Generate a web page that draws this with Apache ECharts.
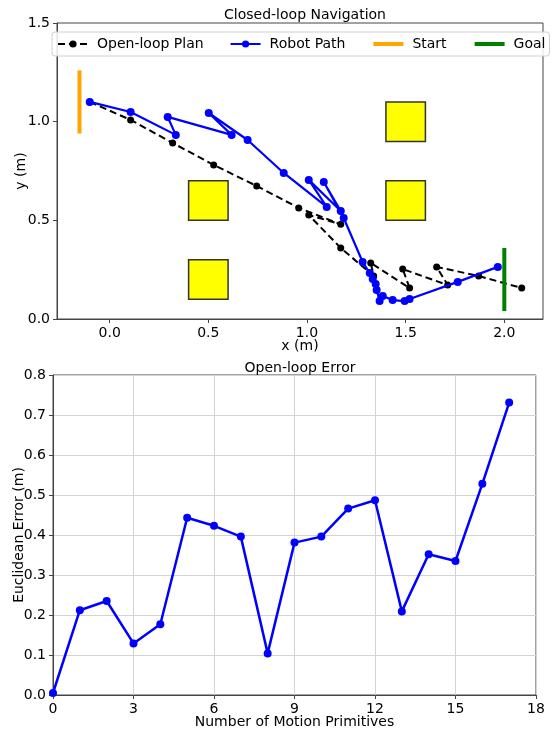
<!DOCTYPE html>
<html>
<head>
<meta charset="utf-8">
<script src="https://cdn.jsdelivr.net/npm/echarts@6/dist/echarts.min.js"></script>
<style>
html,body{margin:0;padding:0;background:#fff;}
#chart{width:553px;height:730px;}
</style>
</head>
<body>
<div id="chart"></div>
<script>
// ---- Data: Closed-loop Navigation ----
const planX = [-0.101, 0.106, 0.319, 0.527, 0.745, 0.958, 1.171, 1.009, 1.171, 1.338, 1.323, 1.520, 1.485, 1.713, 1.657, 1.870, 2.088];
const planY = [1.100, 1.009, 0.892, 0.781, 0.674, 0.563, 0.480, 0.527, 0.360, 0.218, 0.284, 0.157, 0.253, 0.172, 0.264, 0.218, 0.157];

const robotX = [-0.101, 0.106, 0.335, 0.294, 0.618, 0.502, 0.699, 0.882, 1.100, 1.009, 1.171, 1.085, 1.186, 1.282, 1.318, 1.333, 1.348, 1.353, 1.368, 1.384, 1.434, 1.495, 1.520, 1.764, 1.967];
const robotY = [1.100, 1.049, 0.933, 1.024, 0.933, 1.044, 0.907, 0.740, 0.568, 0.705, 0.547, 0.694, 0.512, 0.289, 0.233, 0.203, 0.177, 0.147, 0.091, 0.117, 0.096, 0.091, 0.101, 0.188, 0.264];

const startX = [-0.153, -0.153];
const startY = [0.94, 1.26];
const goalX = [2.0, 2.0];
const goalY = [0.04, 0.36];

// obstacles: [xmin, ymin, xmax, ymax]
const obstacles = [
  [0.4, 0.5, 0.6, 0.7],
  [0.4, 0.1, 0.6, 0.3],
  [1.4, 0.5, 1.6, 0.7],
  [1.4, 0.9, 1.6, 1.1]
];

const navXTicks = [0, 0.5, 1.0, 1.5, 2.0];

// ---- Data: Open-loop Error ----
const primitives = [0, 1, 2, 3, 4, 5, 6, 7, 8, 9, 10, 11, 12, 13, 14, 15, 16, 17];
const errors = [0.005, 0.212, 0.235, 0.129, 0.177, 0.443, 0.423, 0.396, 0.104, 0.381, 0.396, 0.466, 0.487, 0.209, 0.352, 0.335, 0.528, 0.731];

const zip = (a, b) => a.map((v, i) => [v, b[i]]);

const FONT = 'DejaVu Sans';
const axisCol = '#444';

const chart = echarts.init(document.getElementById('chart'), null, {renderer: 'canvas'});

const commonAxis = {
  axisLine: {show: true, onZero: false, lineStyle: {color: axisCol, width: 1}},
  axisTick: {show: true, inside: false, length: 4, lineStyle: {color: axisCol}},
  axisLabel: {color: '#000', fontSize: 14, fontFamily: FONT, margin: 7},
  nameTextStyle: {color: '#000', fontSize: 14, fontFamily: FONT},
  nameLocation: 'middle',
  nameMoveOverlap: false
};

const option = {
  animation: false,
  backgroundColor: '#fff',
  textStyle: {fontFamily: FONT},
  title: [
    {text: 'Closed-loop Navigation', left: 300, top: 3, textAlign: 'center',
     textStyle: {fontSize: 14, fontWeight: 'normal', color: '#000', fontFamily: FONT}},
    {text: 'Open-loop Error', left: 295, top: 356, textAlign: 'center',
     textStyle: {fontSize: 14, fontWeight: 'normal', color: '#000', fontFamily: FONT}}
  ],
  legend: {
    left: 52, top: 32,
    width: 530,
    padding: [5, 4, 5, 5],
    itemGap: 26,
    itemWidth: 30, itemHeight: 9,
    borderColor: '#d0d0d0', borderWidth: 1, borderRadius: 3,
    backgroundColor: 'rgba(255,255,255,0.85)',
    textStyle: {fontSize: 14, fontFamily: FONT, color: '#000', padding: [0, 0, 0, 4]},
    data: [
      {name: 'Open-loop Plan'},
      {name: 'Robot Path'},
      {name: 'Start', itemStyle: {opacity: 0}, lineStyle: {width: 4}},
      {name: 'Goal', itemStyle: {opacity: 0}, lineStyle: {width: 4}}
    ]
  },
  grid: [
    {left: 57, top: 23, width: 486, height: 296, show: true, borderColor: axisCol, borderWidth: 1,
     backgroundColor: 'transparent', outerBoundsMode: 'none', containLabel: false},
    {left: 53, top: 375, width: 483, height: 320, show: true, borderColor: axisCol, borderWidth: 1,
     backgroundColor: 'transparent', outerBoundsMode: 'none', containLabel: false}
  ],
  xAxis: [
    Object.assign({}, commonAxis, {
      gridIndex: 0, type: 'value', min: -0.267, max: 2.196,
      name: 'x (m)', nameGap: 20,
      splitLine: {show: false},
      axisTick: Object.assign({}, commonAxis.axisTick, {customValues: navXTicks}),
      axisLabel: Object.assign({}, commonAxis.axisLabel, {customValues: navXTicks, formatter: v => v.toFixed(1)})
    }),
    Object.assign({}, commonAxis, {
      gridIndex: 1, type: 'value', min: 0, max: 18, interval: 3,
      name: 'Number of Motion Primitives', nameGap: 20,
      splitLine: {show: true, lineStyle: {color: '#d3d3d3', width: 1}}
    })
  ],
  yAxis: [
    Object.assign({}, commonAxis, {
      gridIndex: 0, type: 'value', min: 0, max: 1.5, interval: 0.5,
      name: 'y (m)', nameGap: 29,
      splitLine: {show: false},
      axisLabel: Object.assign({}, commonAxis.axisLabel, {formatter: v => v.toFixed(1)})
    }),
    Object.assign({}, commonAxis, {
      gridIndex: 1, type: 'value', min: 0, max: 0.8, interval: 0.1,
      name: 'Euclidean Error (m)', nameGap: 27,
      splitLine: {show: true, lineStyle: {color: '#d3d3d3', width: 1}},
      axisLabel: Object.assign({}, commonAxis.axisLabel, {formatter: v => v.toFixed(1)})
    })
  ],
  series: [
    {
      name: 'Obstacles', type: 'custom', xAxisIndex: 0, yAxisIndex: 0,
      data: obstacles,
      encode: {x: [0, 2], y: [1, 3]},
      z: 1,
      renderItem: function (params, api) {
        const p0 = api.coord([api.value(0), api.value(3)]);
        const p1 = api.coord([api.value(2), api.value(1)]);
        return {
          type: 'rect',
          shape: {x: p0[0], y: p0[1], width: p1[0] - p0[0], height: p1[1] - p0[1]},
          style: {fill: '#ffff00', stroke: '#333', lineWidth: 1.5}
        };
      }
    },
    {
      name: 'Open-loop Plan', type: 'line', xAxisIndex: 0, yAxisIndex: 0,
      data: zip(planX, planY),
      symbol: 'circle', symbolSize: 7, showSymbol: true,
      lineStyle: {color: '#000', width: 2, type: [7, 4]},
      itemStyle: {color: '#000'},
      z: 3
    },
    {
      name: 'Robot Path', type: 'line', xAxisIndex: 0, yAxisIndex: 0,
      data: zip(robotX, robotY),
      symbol: 'circle', symbolSize: 8, showSymbol: true,
      lineStyle: {color: '#0000ff', width: 2.2},
      itemStyle: {color: '#0000ff'},
      z: 4
    },
    {
      name: 'Start', type: 'line', xAxisIndex: 0, yAxisIndex: 0,
      data: zip(startX, startY),
      symbol: 'none',
      lineStyle: {color: '#ffa500', width: 4},
      itemStyle: {color: '#ffa500'},
      z: 5
    },
    {
      name: 'Goal', type: 'line', xAxisIndex: 0, yAxisIndex: 0,
      data: zip(goalX, goalY),
      symbol: 'none',
      lineStyle: {color: '#008000', width: 4},
      itemStyle: {color: '#008000'},
      z: 5
    },
    {
      name: 'Error', type: 'line', xAxisIndex: 1, yAxisIndex: 1,
      data: zip(primitives, errors),
      symbol: 'circle', symbolSize: 8, showSymbol: true,
      lineStyle: {color: '#0000ff', width: 2.5},
      itemStyle: {color: '#0000ff'},
      clip: false,
      z: 4
    }
  ]
};

chart.setOption(option);
</script>
</body>
</html>
